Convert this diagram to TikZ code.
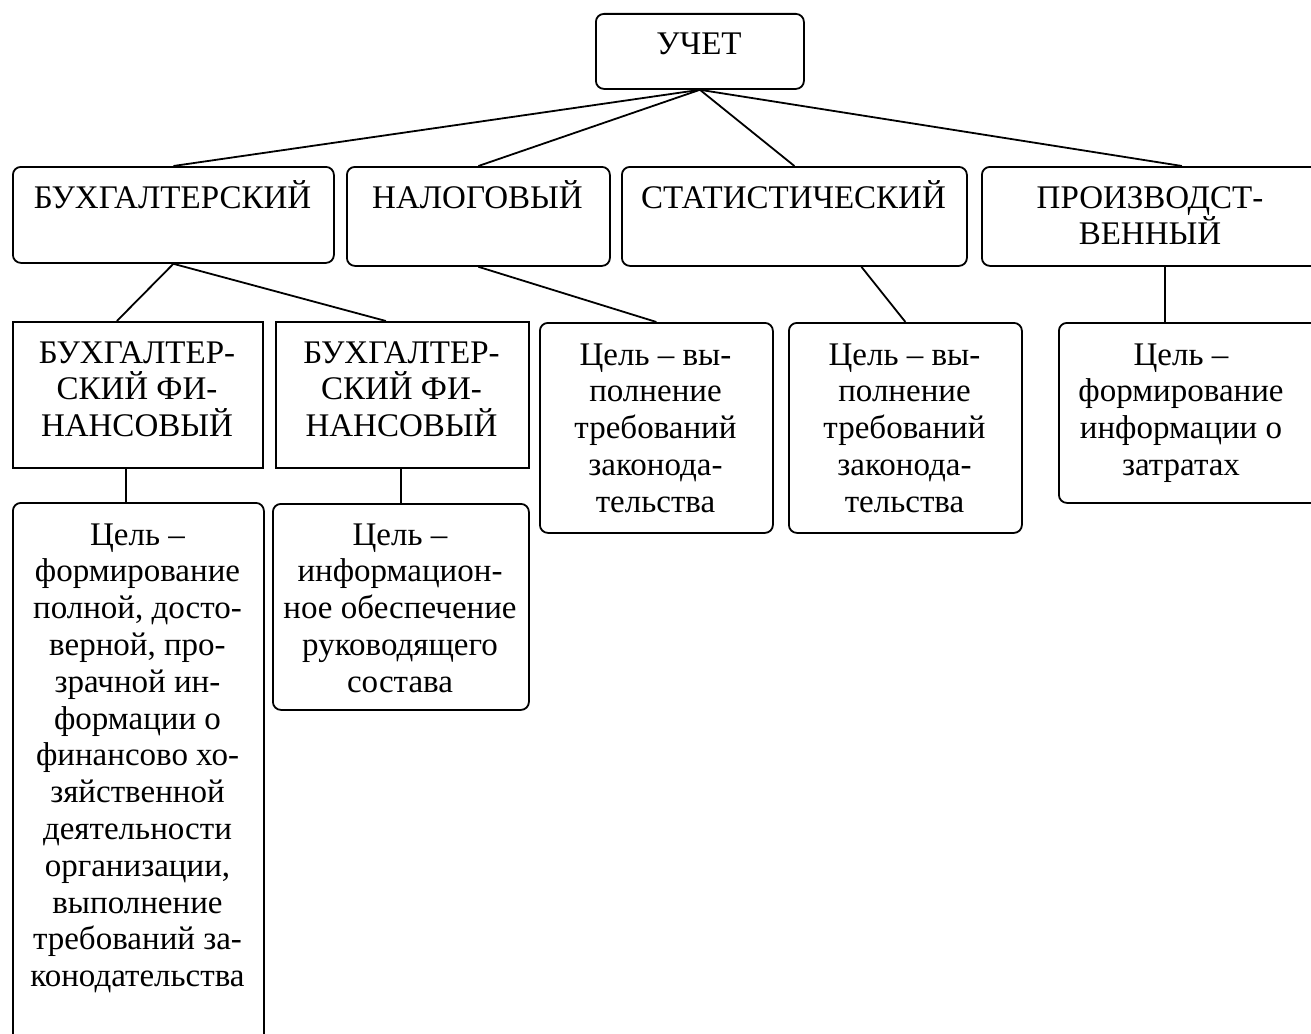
\documentclass[tikz,border=0pt]{standalone}
\usepackage{fontspec}
\setmainfont{Liberation Serif}
\usetikzlibrary{calc}
\tikzset{
  rbox/.style={draw, line width=1.8pt, rounded corners=8pt, anchor=north west, inner sep=0pt},
  sbox/.style={draw, line width=1.8pt, anchor=north west, inner sep=0pt},
  txt/.style={anchor=base, inner sep=0pt, font=\fontsize{33}{36.8}\selectfont},
  conn/.style={line width=1.8pt}
}
\newcommand{\lines}[1]{\parbox[t]{330pt}{\centering #1}}
\begin{document}
\begin{tikzpicture}[x=1pt,y=-1pt]
\useasboundingbox (0,0) rectangle (1311,1033);
\clip (0,0) rectangle (1311,1033);
% boxes
\node[rbox, minimum width=208pt, minimum height=75pt] (uchet) at (595,13) {};
\node[rbox, minimum width=321pt, minimum height=96pt] (buh) at (12,166) {};
\node[rbox, minimum width=263pt, minimum height=99pt] (nalog) at (346,166) {};
\node[rbox, minimum width=345pt, minimum height=99pt] (stat) at (621,166) {};
\node[rbox, minimum width=338pt, minimum height=99pt] (proizv) at (981,166) {};
\node[sbox, minimum width=250pt, minimum height=146pt] (b1) at (12,321) {};
\node[sbox, minimum width=253pt, minimum height=146pt] (b2) at (275,321) {};
\node[rbox, minimum width=233pt, minimum height=210pt] (nalc) at (539,322) {};
\node[rbox, minimum width=233pt, minimum height=210pt] (statc) at (788,322) {};
\node[rbox, minimum width=260pt, minimum height=180pt] (zatc) at (1058,322) {};
\node[rbox, minimum width=251pt, minimum height=560pt] (big) at (12,502) {};
\node[rbox, minimum width=256pt, minimum height=206pt] (info) at (272,503) {};
% texts
\node[txt] (tuchet) at (699,55) {\lines{УЧЕТ}};
\node[txt] (tbuh) at (172.5,208) {\lines{БУХГАЛТЕРСКИЙ}};
\node[txt] (tnalog) at (477.5,208) {\lines{НАЛОГОВЫЙ}};
\node[txt] (tstat) at (793.5,208) {\lines{СТАТИСТИЧЕСКИЙ}};
\node[txt] (tproizv) at (1150,208) {\lines{ПРОИЗВОДСТ-\\ВЕННЫЙ}};
\node[txt] (tb1) at (137,363) {\lines{БУХГАЛТЕР-\\СКИЙ ФИ-\\НАНСОВЫЙ}};
\node[txt] (tb2) at (401.5,363) {\lines{БУХГАЛТЕР-\\СКИЙ ФИ-\\НАНСОВЫЙ}};
\node[txt] (tnalc) at (655.5,365) {\lines{Цель – вы-\\полнение\\требований\\законода-\\тельства}};
\node[txt] (tstatc) at (904.5,365) {\lines{Цель – вы-\\полнение\\требований\\законода-\\тельства}};
\node[txt] (tzatc) at (1181,365) {\lines{Цель –\\формирование\\информации о\\затратах}};
\node[txt] (tbig) at (137.5,545) {\lines{Цель –\\формирование\\полной, досто-\\верной, про-\\зрачной ин-\\формации о\\финансово хо-\\зяйственной\\деятельности\\организации,\\выполнение\\требований за-\\конодательства}};
\node[txt] (tinfo) at (400,545) {\lines{Цель –\\информацион-\\ное обеспечение\\руководящего\\состава}};
% connectors
\draw[conn] (uchet.south) -- (buh.north);
\draw[conn] (uchet.south) -- (nalog.north);
\draw[conn] (uchet.south) -- (stat.north);
\draw[conn] (uchet.south) -- ([xshift=31pt]proizv.north);
\draw[conn] (buh.south) -- ([xshift=-21pt]b1.north);
\draw[conn] (buh.south) -- ([xshift=-16.5pt]b2.north);
\draw[conn] (nalog.south) -- (nalc.north);
\draw[conn] ([xshift=67pt]stat.south) -- (statc.north);
\draw[conn] ([xshift=14pt]proizv.south) -- ([xshift=-24pt]zatc.north);
\draw[conn] ([xshift=-12pt]b1.south) -- ([xshift=-12.5pt]big.north);
\draw[conn] ([xshift=-1.5pt]b2.south) -- (info.north);
\end{tikzpicture}
\end{document}
